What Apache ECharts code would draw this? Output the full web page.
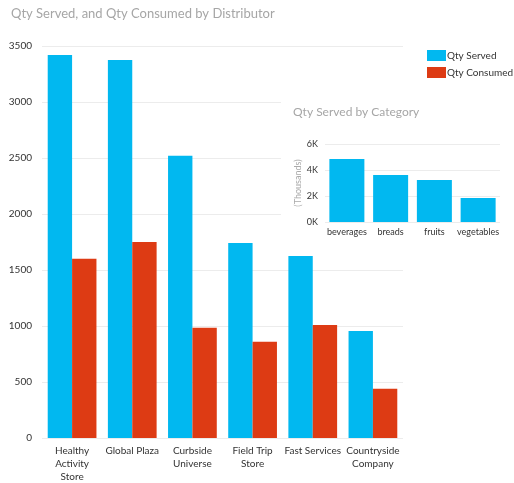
<!DOCTYPE html>
<html>
<head>
<meta charset="utf-8">
<script src="https://cdn.jsdelivr.net/npm/echarts@6/dist/echarts.min.js"></script>
<style>
  html, body { margin: 0; padding: 0; background: #fff; }
  #chart { width: 514px; height: 483px; }
</style>
</head>
<body>
<div id="chart"></div>
<script>
// distributors (main chart)
const distributors = ['Healthy Activity Store', 'Global Plaza', 'Curbside Universe', 'Field Trip Store', 'Fast Services', 'Countryside Company']
const qtyServed = [3420, 3375, 2520, 1740, 1625, 955]
const qtyConsumed = [1600, 1750, 985, 860, 1010, 440]

// categories (inset chart)
const categories = ['beverages', 'breads', 'fruits', 'vegetables']
const servedByCategory = [4850, 3620, 3240, 1850]

const blue = '#01b8f0'
const red = '#dd3b14'
const font = 'Lato, "Segoe UI", sans-serif'

// wrap long category names word by word, like the original visual does
function wrapLabel(name) {
  const lines = []
  let cur = ''
  name.split(' ').forEach(w => {
    if (cur && (cur + ' ' + w).length > 13) {
      lines.push(cur)
      cur = w
    } else {
      cur = cur ? cur + ' ' + w : w
    }
  })
  lines.push(cur)
  return lines.join('\n')
}

const chart = echarts.init(document.getElementById('chart'))

const option = {
  backgroundColor: '#fff',
  animation: false,
  textStyle: { fontFamily: font },
  title: [
    {
      text: 'Qty Served, and Qty Consumed by Distributor',
      left: 6, top: 2,
      textStyle: { fontSize: 13, fontWeight: 'normal', color: '#a6a6a6', fontFamily: font },
    },
    {
      text: 'Qty Served by Category',
      left: 288, top: 101, z: 20,
      textStyle: { fontSize: 12, fontWeight: 'normal', color: '#a6a6a6', fontFamily: font },
    },
  ],
  legend: {
    orient: 'vertical',
    left: 427, top: 50,
    padding: 0,
    itemWidth: 19, itemHeight: 11,
    itemGap: 6,
    icon: 'rect',
    textStyle: { fontSize: 10, color: '#333', fontFamily: font, width: 70, overflow: 'none', padding: [0, 0, 0, -4] },
    data: ['Qty Served', 'Qty Consumed'],
  },
  // white panel behind the inset chart
  graphic: [
    { type: 'rect', shape: { x: 281, y: 93, width: 233, height: 160 }, style: { fill: '#fff' }, z: 5 },
  ],
  grid: [
    { left: 42, right: 111, top: 46, bottom: 45, outerBoundsMode: 'none', containLabel: false },
    { left: 325, right: 14, top: 144, bottom: 261, z: 10, outerBoundsMode: 'none', containLabel: false },
  ],
  xAxis: [
    {
      type: 'category', gridIndex: 0, data: distributors,
      axisLine: { show: false }, axisTick: { show: false },
      axisLabel: {
        interval: 0, fontSize: 10, color: '#333', margin: 6, lineHeight: 13,
        formatter: wrapLabel,
      },
    },
    {
      type: 'category', gridIndex: 1, data: categories, z: 10,
      axisLine: { show: false }, axisTick: { show: false },
      axisLabel: { interval: 0, fontSize: 9, color: '#333', margin: 6 },
    },
  ],
  yAxis: [
    {
      type: 'value', gridIndex: 0, min: 0, max: 3500, interval: 500,
      axisLine: { show: false }, axisTick: { show: false },
      axisLabel: { fontSize: 10, color: '#333', margin: 10, formatter: v => String(v) },
      splitLine: { lineStyle: { color: '#ececec' } },
    },
    {
      type: 'value', gridIndex: 1, min: 0, max: 6000, interval: 2000, z: 10,
      name: '(Thousands)', nameLocation: 'middle', nameRotate: 90, nameGap: 20,
      nameTextStyle: { fontSize: 9, color: '#aaa' },
      axisLine: { show: false }, axisTick: { show: false },
      axisLabel: { fontSize: 9, color: '#333', margin: 7, formatter: v => (v / 1000) + 'K' },
      splitLine: { lineStyle: { color: '#ececec' } },
    },
  ],
  series: [
    {
      name: 'Qty Served', type: 'bar', xAxisIndex: 0, yAxisIndex: 0, z: 2,
      data: qtyServed, itemStyle: { color: blue },
      barGap: '0%', barCategoryGap: '19%',
    },
    {
      name: 'Qty Consumed', type: 'bar', xAxisIndex: 0, yAxisIndex: 0, z: 2,
      data: qtyConsumed, itemStyle: { color: red },
      barGap: '0%', barCategoryGap: '19%',
    },
    {
      name: 'Qty Served by Category', type: 'bar', xAxisIndex: 1, yAxisIndex: 1, z: 10,
      data: servedByCategory, itemStyle: { color: blue },
      barCategoryGap: '20%',
    },
  ],
}

chart.setOption(option)
</script>
</body>
</html>
